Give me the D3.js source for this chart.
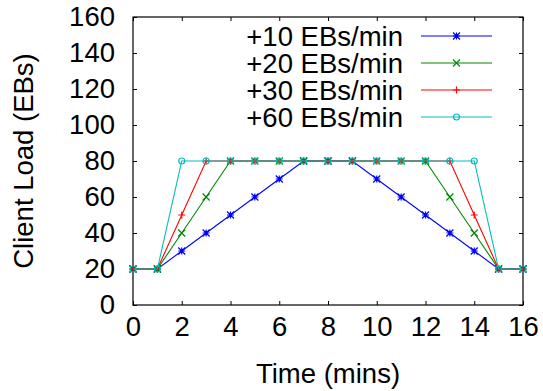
<!DOCTYPE html>
<html lang="en">
  <head>
    <meta charset="UTF-8" />
    <title>Client Load</title>
    <script src="https://d3js.org/d3.v7.min.js"></script>
    <style>
      body {
        margin: 0;
        background: white;
        font-family: "Liberation Sans", Arial, sans-serif;
      }
      svg text {
        fill: black;
      }
    </style>
  </head>
  <body>
    <svg id="chart" width="543" height="391"></svg>
    <script>
      // Data
      const minutes = [0, 1, 2, 3, 4, 5, 6, 7, 8, 9, 10, 11, 12, 13, 14, 15, 16];
      const seriesNames = ["+10 EBs/min", "+20 EBs/min", "+30 EBs/min", "+60 EBs/min"];
      const load10 = [20, 20, 30, 40, 50, 60, 70, 80, 80, 80, 70, 60, 50, 40, 30, 20, 20];
      const load20 = [20, 20, 40, 60, 80, 80, 80, 80, 80, 80, 80, 80, 80, 60, 40, 20, 20];
      const load30 = [20, 20, 50, 80, 80, 80, 80, 80, 80, 80, 80, 80, 80, 80, 50, 20, 20];
      const load60 = [20, 20, 80, 80, 80, 80, 80, 80, 80, 80, 80, 80, 80, 80, 80, 20, 20];
      const xTicks = [0, 2, 4, 6, 8, 10, 12, 14, 16];
      const yTicks = [0, 20, 40, 60, 80, 100, 120, 140, 160];

      const colors = ["#0000ff", "#008800", "#ff0000", "#00bfbf"];
      const shapes = ["star", "cross", "plus", "circle"];
      const allLoads = [load10, load20, load30, load60];

      const plotLeft = 133, plotRight = 523, plotTop = 17, plotBottom = 305;
      const fontSize = 27.5;

      const svg = d3.select("#chart");

      const x = d3.scaleLinear().domain([0, 16]).range([plotLeft, plotRight]);
      const y = d3.scaleLinear().domain([0, 160]).range([plotBottom, plotTop]);

      // axes with inward ticks (gnuplot style, mirrored)
      const tickLen = 4;
      const styleAxis = (g) => {
        g.select(".domain").remove();
        g.selectAll("line").attr("stroke", "black");
        g.selectAll("text").style("font-size", fontSize + "px").attr("fill", "black");
      };

      svg.append("g")
        .attr("transform", `translate(0,${plotBottom})`)
        .call(d3.axisBottom(x).tickValues(xTicks).tickSize(-tickLen).tickPadding(11))
        .call(styleAxis);

      svg.append("g")
        .attr("transform", `translate(0,${plotTop})`)
        .call(d3.axisTop(x).tickValues(xTicks).tickSize(-tickLen).tickFormat(""))
        .call(styleAxis);

      svg.append("g")
        .attr("transform", `translate(${plotLeft},0)`)
        .call(d3.axisLeft(y).tickValues(yTicks).tickSize(-tickLen).tickPadding(18))
        .call(styleAxis);

      svg.append("g")
        .attr("transform", `translate(${plotRight},0)`)
        .call(d3.axisRight(y).tickValues(yTicks).tickSize(-tickLen).tickFormat(""))
        .call(styleAxis);

      svg.append("rect")
        .attr("x", plotLeft)
        .attr("y", plotTop)
        .attr("width", plotRight - plotLeft)
        .attr("height", plotBottom - plotTop)
        .attr("fill", "none")
        .attr("stroke", "black")
        .attr("stroke-width", 1.2);

      // marker drawing
      function marker(g, shape, color, cx, cy) {
        const s = 3.5;
        if (shape === "circle") {
          g.append("circle").attr("cx", cx).attr("cy", cy).attr("r", 3)
            .attr("fill", "none").attr("stroke", color).attr("stroke-width", 1.2);
          return;
        }
        let d = "";
        if (shape === "plus" || shape === "star") {
          d += `M${cx - s},${cy}H${cx + s}M${cx},${cy - s}V${cy + s}`;
        }
        if (shape === "cross" || shape === "star") {
          d += `M${cx - s},${cy - s}L${cx + s},${cy + s}M${cx - s},${cy + s}L${cx + s},${cy - s}`;
        }
        g.append("path").attr("d", d).attr("stroke", color).attr("stroke-width", 1.2).attr("fill", "none");
      }

      const line = d3.line().x((d, i) => x(minutes[i])).y((d) => y(d));

      allLoads.forEach((vals, k) => {
        const g = svg.append("g");
        g.append("path")
          .datum(vals)
          .attr("fill", "none")
          .attr("stroke", colors[k])
          .attr("stroke-width", 1.1)
          .attr("d", line);
        vals.forEach((v, i) => marker(g, shapes[k], colors[k], x(minutes[i]), y(v)));
      });

      // legend
      const legendTextX = 403, lineX1 = 421, lineX2 = 492;
      seriesNames.forEach((name, k) => {
        const cy = 36 + k * 27;
        svg.append("text")
          .attr("x", legendTextX)
          .attr("y", cy)
          .attr("dy", "0.35em")
          .attr("text-anchor", "end")
          .style("font-size", fontSize + "px")
          .text(name);
        svg.append("line")
          .attr("x1", lineX1).attr("x2", lineX2)
          .attr("y1", cy).attr("y2", cy)
          .attr("stroke", colors[k]).attr("stroke-width", 1.1);
        marker(svg, shapes[k], colors[k], (lineX1 + lineX2) / 2, cy);
      });

      // axis titles
      svg.append("text")
        .attr("x", (plotLeft + plotRight) / 2)
        .attr("y", 383)
        .attr("text-anchor", "middle")
        .style("font-size", fontSize + "px")
        .text("Time (mins)");

      svg.append("text")
        .attr("transform", `translate(33,${(plotTop + plotBottom) / 2}) rotate(-90)`)
        .attr("text-anchor", "middle")
        .style("font-size", fontSize + "px")
        .text("Client Load (EBs)");
    </script>
  </body>
</html>
